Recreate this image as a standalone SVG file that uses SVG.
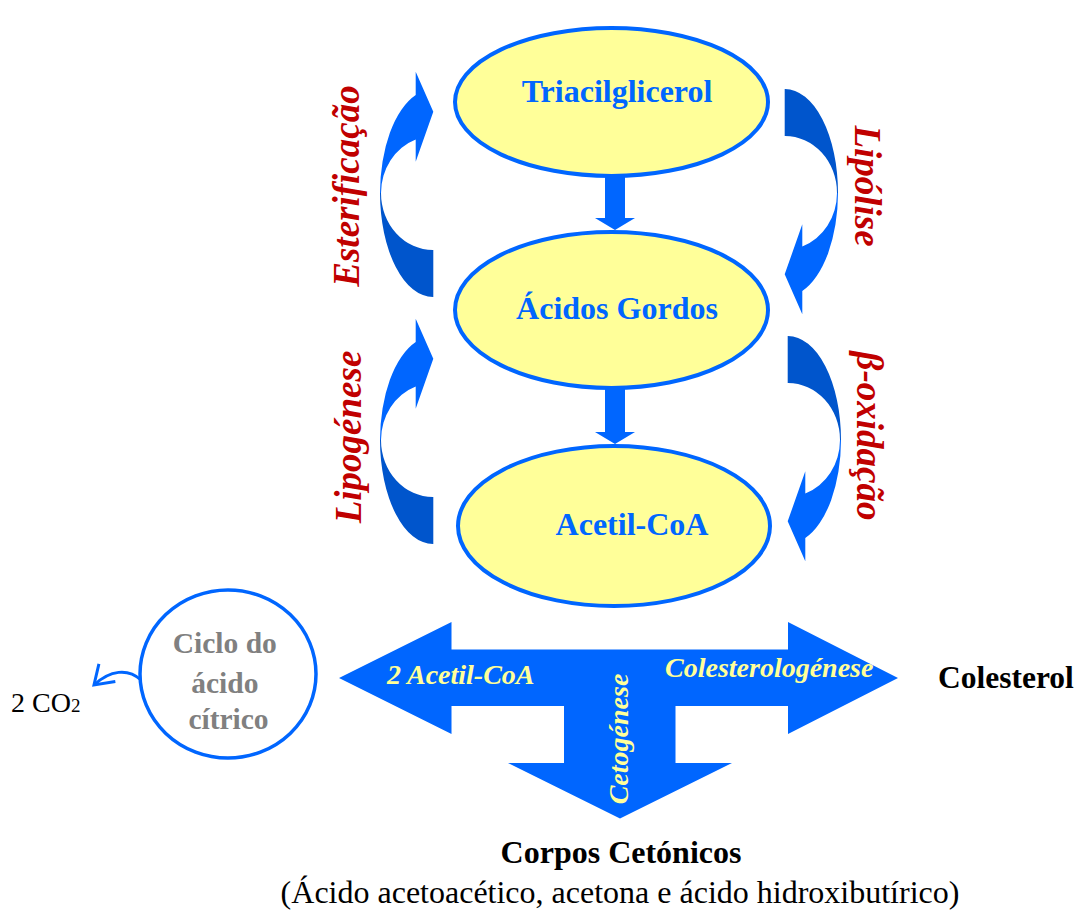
<svg xmlns="http://www.w3.org/2000/svg" width="1077" height="911" viewBox="0 0 1077 911">
<style>
.ell{fill:#FFFF99;stroke:#0066FF;stroke-width:4}
.nt{font-family:"Liberation Serif",serif;font-weight:bold;font-size:32px;fill:#0066FF;text-anchor:middle}
.lab{font-family:"Liberation Serif",serif;font-weight:bold;font-style:italic;font-size:37px;fill:#C00000;text-anchor:middle}
.yl{font-family:"Liberation Serif",serif;font-weight:bold;font-style:italic;font-size:28px;fill:#FFFF99}
.blk{font-family:"Liberation Serif",serif;fill:#000}
.bright{fill:#0066FF}
.dark{fill:#0055CC}
.arr{fill:#0066FF}
</style>
<defs>
<g id="curl">
<path class="bright" d="M415.7 71.7 L433.3 111.7 L415.7 161.7 L415.7 139.4 A52 57 0 0 0 381 193 L380 193 A53 104 0 0 1 415.7 95 Z"/>
<path class="dark" d="M380 193 A53 104 0 0 0 433.3 297 L433.3 250 A52 57 0 0 1 381 193 Z"/>
</g>
<marker id="open" markerUnits="userSpaceOnUse" viewBox="-22 -14 26 28" refX="0" refY="0" markerWidth="26" markerHeight="28" orient="auto">
<path d="M-18 -12 L0 0 L-18 12" fill="none" stroke="#0066FF" stroke-width="3"/>
</marker>
</defs>

<g id="connectors">
<polygon class="arr" points="605,170 625,170 625,218 635,218 615,230 595,218 605,218"/>
<polygon class="arr" points="605,380 625,380 625,432 635,432 615,444 595,432 605,432"/>
<use href="#curl"/>
<use href="#curl" transform="translate(0,247)"/>
<use href="#curl" transform="rotate(180 609 193)"/>
<use href="#curl" transform="translate(3,247) rotate(180 609 193)"/>
<path d="M141 680 C128 668 110 670 94 685" fill="none" stroke="#0066FF" stroke-width="3" marker-end="url(#open)"/>
</g>

<g id="t-arrow">
<polygon class="arr" points="339,678 451.5,622 451.5,649.5 788,649.5 788,622 898,678 788,734 788,706 675.5,706 675.5,763 732,763 620,818.5 508,763 564,763 564,706 451.5,706 451.5,734"/>
<text class="yl" x="387" y="684" font-size="29">2 Acetil-CoA</text>
<text class="yl" x="665" y="677">Colesterologénese</text>
<text class="yl" text-anchor="middle" font-size="29" transform="translate(628,739) rotate(-90)">Cetogénese</text>
</g>

<g id="triacilglicerol">
<ellipse class="ell" cx="611.5" cy="102" rx="156.5" ry="74"/>
<text class="nt" x="617" y="102">Triacilglicerol</text>
</g>
<g id="acidos-gordos">
<ellipse class="ell" cx="611.5" cy="310" rx="156.5" ry="78"/>
<text class="nt" x="617" y="319">Ácidos Gordos</text>
</g>
<g id="acetil-coa">
<ellipse class="ell" cx="614" cy="526" rx="156" ry="80"/>
<text class="nt" x="632" y="535">Acetil-CoA</text>
</g>

<g id="labels">
<text class="lab" transform="translate(359,186) rotate(-90)">Esterificação</text>
<text class="lab" transform="translate(361,437) rotate(-90)">Lipogénese</text>
<text class="lab" transform="translate(855,186) rotate(90)">Lipólise</text>
<text class="lab" transform="translate(857,436) rotate(90)">β-oxidação</text>
</g>

<g id="ciclo">
<ellipse cx="228" cy="674" rx="88" ry="84" fill="#FFFFFF" stroke="#0066FF" stroke-width="3.5"/>
<text font-family="Liberation Serif, serif" font-weight="bold" font-size="29.5" fill="#808080" text-anchor="middle">
<tspan x="228.5" y="653">Ciclo do</tspan>
<tspan x="228.5" y="693">ácido</tspan>
<tspan x="228.5" y="729">cítrico</tspan>
</text>
</g>

<g id="co2">
<text class="blk" x="11" y="712" font-size="28">2 CO<tspan font-size="19">2</tspan></text>
</g>

<g id="colesterol">
<text class="blk" x="938" y="688" font-size="31.5" font-weight="bold">Colesterol</text>
</g>

<g id="corpos">
<text class="blk" x="621" y="863" font-size="32" font-weight="bold" text-anchor="middle">Corpos Cetónicos</text>
<text class="blk" x="620" y="903" font-size="32" text-anchor="middle">(Ácido acetoacético, acetona e ácido hidroxibutírico)</text>
</g>
</svg>
